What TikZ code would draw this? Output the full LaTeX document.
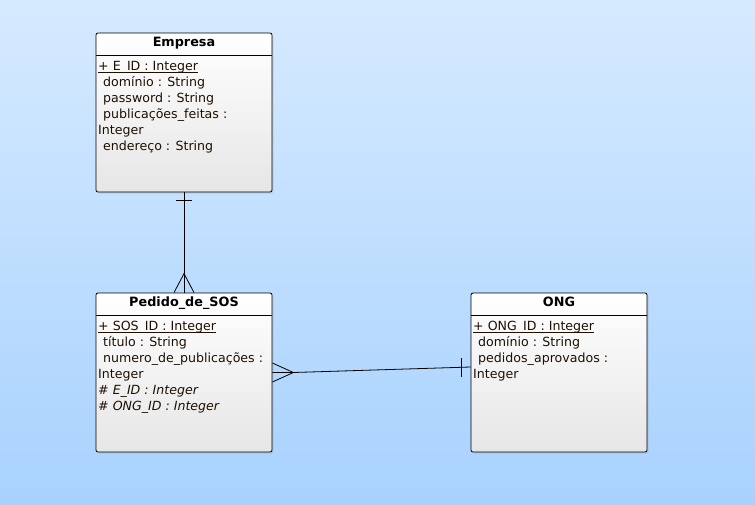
\documentclass[tikz,border=0pt]{standalone}
\usepackage{fontspec}
\setmainfont{DejaVu Sans}
\usetikzlibrary{calc,shadows}
\definecolor{bgtop}{HTML}{D6EAFF}
\definecolor{bgbot}{HTML}{A8D2FE}
\definecolor{boxbot}{HTML}{E6E6E6}
\definecolor{txt}{HTML}{1E1000}
\tikzset{
  umlbox/.style={draw=black, line width=0.8pt, rounded corners=2pt,
    top color=white, bottom color=boxbot, inner sep=0pt,
    drop shadow={shadow xshift=1.5pt, shadow yshift=-1.5pt, opacity=0.2}},
  title/.style={font=\fontsize{12.8}{14}\selectfont\bfseries, text=black, anchor=base, inner sep=0pt},
  attr/.style={font=\fontsize{12.6}{14}\selectfont, text=txt, anchor=base west, inner sep=0pt},
  conn/.style={draw=black, line width=0.8pt},
  keyline/.style={draw=txt, line width=0.7pt},
}
\begin{document}
\begin{tikzpicture}[x=1pt,y=1pt]
\useasboundingbox (0,0) rectangle (755,-504);
\fill[top color=bgtop, bottom color=bgbot] (0,0) rectangle (755,-504);

% Empresa
\node[umlbox, minimum width=176pt, minimum height=159pt] (emp) at (184,-112.5) {};
\draw[line width=0.8pt] (96,-55.5) -- (272,-55.5);
\node[title] (empT) at (184,-46) {Empresa};
\node[attr] (e1) at (98,-70) {+ E\_ID : Integer};
\draw[keyline] ($(e1.base west)+(0,-2.2)$) -- ($(e1.base east)+(0,-2.2)$);
\node[attr] (e2) at (103,-86) {domínio : String};
\node[attr] (e3) at (103,-102) {password : String};
\node[attr] (e4) at (103,-118) {publicações\_feitas :};
\node[attr] (e5) at (98,-134) {Integer};
\node[attr] (e6) at (103,-150) {endereço : String};

% Pedido_de_SOS
\node[umlbox, minimum width=176pt, minimum height=159pt] (ped) at (184,-372.5) {};
\draw[line width=0.8pt] (96,-315.5) -- (272,-315.5);
\node[title] (pedT) at (184,-306) {Pedido\_de\_SOS};
\node[attr] (p1) at (98,-330) {+ SOS\_ID : Integer};
\draw[keyline] ($(p1.base west)+(0,-2.2)$) -- ($(p1.base east)+(0,-2.2)$);
\node[attr] (p2) at (103,-346) {título : String};
\node[attr] (p3) at (103,-362) {numero\_de\_publicações :};
\node[attr] (p4) at (98,-378) {Integer};
\node[attr] (p5) at (98,-394) {\itshape \# E\_ID : Integer};
\node[attr] (p6) at (98,-410) {\itshape \# ONG\_ID : Integer};

% ONG
\node[umlbox, minimum width=176pt, minimum height=159pt] (ong) at (559,-372.5) {};
\draw[line width=0.8pt] (471,-315.5) -- (647,-315.5);
\node[title] (ongT) at (559,-306) {ONG};
\node[attr] (o1) at (473,-330) {+ ONG\_ID : Integer};
\draw[keyline] ($(o1.base west)+(0,-2.2)$) -- ($(o1.base east)+(0,-2.2)$);
\node[attr] (o2) at (478,-346) {domínio : String};
\node[attr] (o3) at (478,-362) {pedidos\_aprovados :};
\node[attr] (o4) at (473,-378) {Integer};

% Empresa (one) -- Pedido_de_SOS (many)
\draw[conn] (emp.south) -- (ped.north);
\draw[conn] ($(emp.south)+(-8,-8)$) -- ($(emp.south)+(8,-8)$);
\draw[conn] ($(ped.north)+(-10,0)$) -- ($(ped.north)+(0,19)$) -- ($(ped.north)+(10,0)$);

% Pedido_de_SOS (many) -- ONG (one)
\coordinate (ongIn) at ($(ong.west)+(0,5.5)$);
\draw[conn] (ped.east) -- ($(ped.east)+(21,0)$) -- (ongIn);
\draw[conn] ($(ped.east)+(0,9.5)$) -- ($(ped.east)+(21,0)$) -- ($(ped.east)+(0,-9.5)$);
\draw[conn] ($(ongIn)+(-9,9)$) -- ($(ongIn)+(-9,-9.5)$);
\end{tikzpicture}
\end{document}
